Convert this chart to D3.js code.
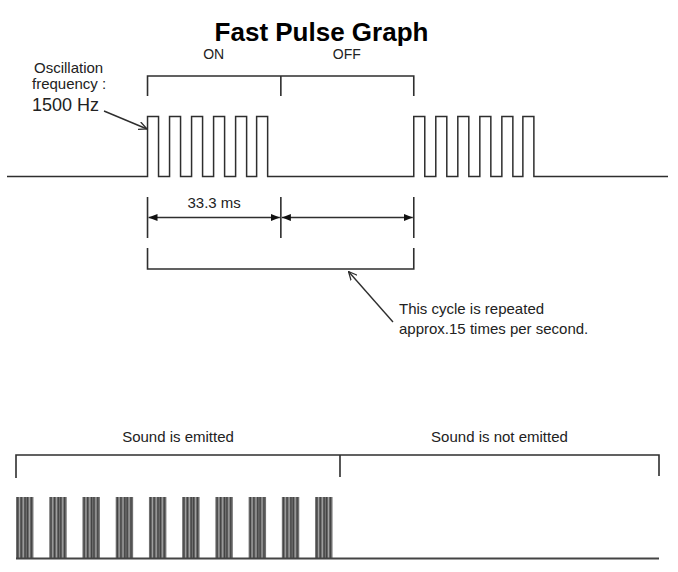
<!DOCTYPE html>
<html>
<head>
<meta charset="utf-8">
<script src="https://cdn.jsdelivr.net/npm/d3@7/dist/d3.min.js"></script>
<style>
  html, body { margin: 0; padding: 0; background: #fff; }
  svg { display: block; }
  text { font-family: "Liberation Sans", Arial, sans-serif; fill: #222; }
</style>
</head>
<body>
<svg id="chart" width="678" height="572"></svg>
<script>
// ---------------- DATA ----------------
const title = "Fast Pulse Graph";
// top waveform (time in ms)
const topCycleStarts = [0, 66.5];                 // start of each ON period
const pulseOffsets = [0, 5.5, 11, 16.5, 22, 27.25]; // pulse rising edges inside an ON period
const pulseWidth = 2.75;                          // ms high per pulse
const onDuration = 33.3;                          // ms
const cycleDuration = 66.5;                       // ms
const phaseLabels = ["ON", "OFF"];
const dimensionLabel = "33.3 ms";
const freqLabel = ["Oscillation", "frequency :", "1500 Hz"];
const cycleNote = ["This cycle is repeated", "approx.15 times per second."];
// bottom sound pattern (time in ms)
const soundBurstStarts = [0, 66.7, 133.3, 200, 266.7, 333.3, 400, 466.7, 533.3, 600];
const soundBurstWidth = 35;
const soundSections = [
  { label: "Sound is emitted", start: 0, end: 650 },
  { label: "Sound is not emitted", start: 650, end: 1290 }
];

// ---------------- DRAW ----------------
const svg = d3.select("#chart");
const ink = "#2e2e2e";

const defs = svg.append("defs");
defs.append("marker").attr("id", "open").attr("viewBox", "0 0 10 10")
  .attr("refX", 9.5).attr("refY", 5).attr("markerWidth", 9).attr("markerHeight", 9)
  .attr("markerUnits", "userSpaceOnUse").attr("orient", "auto")
  .append("path").attr("d", "M0,0.5 L9.5,5 L0,9.5").attr("fill", "none")
  .attr("stroke", ink).attr("stroke-width", 1.4);
defs.append("marker").attr("id", "solid").attr("viewBox", "0 0 10 10")
  .attr("refX", 10).attr("refY", 5).attr("markerWidth", 9).attr("markerHeight", 9)
  .attr("markerUnits", "userSpaceOnUse").attr("orient", "auto-start-reverse")
  .append("path").attr("d", "M0,1 L10,5 L0,9 Z").attr("fill", "#111");

// title
svg.append("text").attr("x", 321.5).attr("y", 41).attr("text-anchor", "middle")
  .style("font-weight", "bold").style("font-size", "26px").style("fill", "#000").text(title);

// scales for the top waveform
const x = d3.scaleLinear().domain([-35.1, 130]).range([7, 668]);
const y = d3.scaleLinear().domain([0, 1]).range([176.5, 116.5]);

// waveform points
const pts = [[x.domain()[0], 0]];
topCycleStarts.forEach(c => {
  pulseOffsets.forEach(o => {
    const t = c + o;
    pts.push([t, 0], [t, 1], [t + pulseWidth, 1], [t + pulseWidth, 0]);
  });
});
pts.push([x.domain()[1], 0]);
const line = d3.line().x(d => x(d[0])).y(d => y(d[1]));
svg.append("path").attr("d", line(pts)).attr("fill", "none")
  .attr("stroke", ink).attr("stroke-width", 1.5).attr("stroke-linejoin", "miter");

// phase bracket (ON / OFF) above
const t0 = topCycleStarts[0];
const bounds = [t0, t0 + onDuration, t0 + cycleDuration];
const bTop = 76, bTick = 96;
svg.append("path")
  .attr("d", `M${x(bounds[0])},${bTick} V${bTop} H${x(bounds[2])} V${bTick} M${x(bounds[1])},${bTop} V${bTick}`)
  .attr("fill", "none").attr("stroke", ink).attr("stroke-width", 1.6);
phaseLabels.forEach((lab, i) => {
  svg.append("text").attr("x", (x(bounds[i]) + x(bounds[i + 1])) / 2 - 0.5).attr("y", 59)
    .attr("text-anchor", "middle").style("font-size", "14px").text(lab);
});

// dimension lines below
bounds.forEach(b => {
  svg.append("line").attr("x1", x(b)).attr("x2", x(b)).attr("y1", 197).attr("y2", 238)
    .attr("stroke", ink).attr("stroke-width", 1.6);
});
for (let i = 0; i < 2; i++) {
  svg.append("line").attr("x1", x(bounds[i]) + 1).attr("x2", x(bounds[i + 1]) - 1)
    .attr("y1", 217.5).attr("y2", 217.5).attr("stroke", ink).attr("stroke-width", 1.4)
    .attr("marker-start", "url(#solid)").attr("marker-end", "url(#solid)");
}
svg.append("text").attr("x", (x(bounds[0]) + x(bounds[1])) / 2).attr("y", 208)
  .attr("text-anchor", "middle").style("font-size", "15px").text(dimensionLabel);

// full-cycle bracket
svg.append("path")
  .attr("d", `M${x(bounds[0])},248 V269 H${x(bounds[2])} V248`)
  .attr("fill", "none").attr("stroke", ink).attr("stroke-width", 1.6);

// cycle note with arrow
svg.append("line").attr("x1", 393).attr("y1", 322).attr("x2", 348.5).attr("y2", 271.5)
  .attr("stroke", ink).attr("stroke-width", 1.4).attr("marker-end", "url(#open)");
cycleNote.forEach((s, i) => {
  svg.append("text").attr("x", 399).attr("y", 314 + i * 20).style("font-size", "15px").text(s);
});

// frequency label with arrow
svg.append("text").attr("x", 34).attr("y", 73).style("font-size", "15px").text(freqLabel[0]);
svg.append("text").attr("x", 32).attr("y", 89).style("font-size", "15px").text(freqLabel[1]);
svg.append("text").attr("x", 32).attr("y", 111).style("font-size", "18px").text(freqLabel[2]);
svg.append("line").attr("x1", 104).attr("y1", 111).attr("x2", x(t0) - 0.5).attr("y2", 129)
  .attr("stroke", ink).attr("stroke-width", 1.4).attr("marker-end", "url(#open)");

// ---------------- bottom sound pattern ----------------
const xb = d3.scaleLinear().domain([0, 1290]).range([16, 659]);
const yb = d3.scaleLinear().domain([0, 1]).range([558.5, 497]);

// section bracket
const secB = [soundSections[0].start, soundSections[0].end, soundSections[1].end];
svg.append("path")
  .attr("d", `M${xb(secB[0])},478 V455 H${xb(secB[2])} V476 M${xb(secB[1])},455 V477`)
  .attr("fill", "none").attr("stroke", ink).attr("stroke-width", 1.6);
soundSections.forEach(s => {
  svg.append("text").attr("x", (xb(s.start) + xb(s.end)) / 2).attr("y", 442)
    .attr("text-anchor", "middle").style("font-size", "15px").text(s.label);
});

// bursts
const stripeDark = [0.1, 0.3, 0.52, 0.66, 0.88];
const stripeLight = [0.2, 0.42, 0.77];
const bw = xb(soundBurstWidth) - xb(0);
const bursts = svg.append("g");
soundBurstStarts.forEach(s => {
  const g = bursts.append("g").attr("transform", `translate(${xb(s)},0)`);
  g.append("rect").attr("x", 0).attr("y", yb(1)).attr("width", bw).attr("height", yb(0) - yb(1))
    .attr("fill", "#707070");
  stripeDark.forEach(f => g.append("line").attr("x1", f * bw).attr("x2", f * bw)
    .attr("y1", yb(1)).attr("y2", yb(0)).attr("stroke", "#444").attr("stroke-width", 1.2));
  stripeLight.forEach(f => g.append("line").attr("x1", f * bw).attr("x2", f * bw)
    .attr("y1", yb(1)).attr("y2", yb(0)).attr("stroke", "#b0b0b0").attr("stroke-width", 0.8));
});
// baseline
svg.append("line").attr("x1", xb(0)).attr("x2", xb(1290)).attr("y1", yb(0)).attr("y2", yb(0))
  .attr("stroke", "#444").attr("stroke-width", 2);
</script>
</body>
</html>
